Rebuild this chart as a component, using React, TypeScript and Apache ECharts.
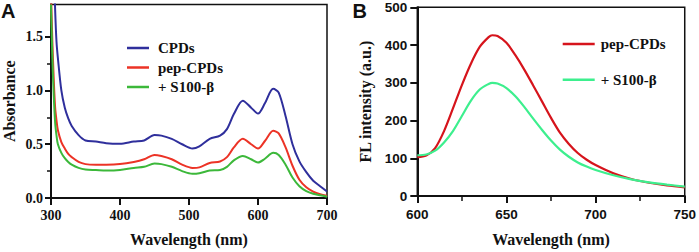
import React, { useEffect, useRef } from "react";
import * as echarts from "echarts";

const waveA = [300, 302, 304, 306, 308, 310, 315, 320, 325, 330, 340, 350, 365, 380, 400, 420, 435, 450, 460, 475, 490, 505, 515, 530, 545, 555, 565, 578, 590, 600, 610, 622, 630, 640, 650, 660, 670, 680, 690, 700];
const cpdsA = [3.2, 2.7, 2.2, 1.75, 1.45, 1.3, 1.0, 0.84, 0.74, 0.67, 0.585, 0.535, 0.525, 0.51, 0.505, 0.525, 0.535, 0.585, 0.58, 0.55, 0.5, 0.46, 0.48, 0.55, 0.58, 0.64, 0.78, 0.905, 0.84, 0.785, 0.88, 1.015, 0.98, 0.76, 0.5, 0.34, 0.24, 0.16, 0.11, 0.06];
const pepA = [1.9, 1.45, 1.1, 0.84, 0.72, 0.63, 0.52, 0.46, 0.41, 0.38, 0.335, 0.315, 0.31, 0.31, 0.315, 0.335, 0.36, 0.4, 0.39, 0.36, 0.31, 0.28, 0.285, 0.325, 0.34, 0.38, 0.47, 0.55, 0.5, 0.46, 0.53, 0.625, 0.6, 0.47, 0.3, 0.17, 0.1, 0.06, 0.035, 0.02];
const s100A = [1.8, 1.3, 0.95, 0.7, 0.58, 0.5, 0.42, 0.37, 0.335, 0.31, 0.28, 0.265, 0.26, 0.255, 0.26, 0.28, 0.29, 0.32, 0.315, 0.29, 0.25, 0.225, 0.23, 0.255, 0.26, 0.29, 0.35, 0.39, 0.36, 0.33, 0.365, 0.42, 0.4, 0.31, 0.19, 0.11, 0.065, 0.04, 0.025, 0.012];

const waveB = [600, 605, 610, 615, 620, 625, 630, 635, 640, 642, 645, 650, 655, 660, 665, 670, 675, 680, 685, 690, 695, 700, 710, 720, 730, 740, 750];
const pepB = [103, 107, 127, 172, 232, 294, 350, 395, 421, 426, 424, 406, 373, 335, 293, 250, 207, 168, 138, 114, 96, 82, 60, 45, 35, 28, 23];
const s100B = [108, 110, 120, 142, 172, 212, 252, 282, 297, 300, 298, 286, 264, 236, 205, 175, 147, 123, 104, 89, 78, 69, 55, 44, 36, 30, 25];

const ticksAy = [0, 0.5, 1.0, 1.5];
const minorAy = [0.25, 0.75, 1.25];
const ticksAx = [300, 400, 500, 600, 700];
const ticksBy = [0, 100, 200, 300, 400, 500];
const ticksBx = [600, 650, 700, 750];
const minorBx = [625, 675, 725];

const namesA = ["CPDs", "pep-CPDs", "+ S100-β"];
const namesB = ["pep-CPDs", "+ S100-β"];
const colorsA = ["#2f2f9c", "#ec3326", "#3cb83a"];
const colorsB = ["#d6141c", "#3def8e"];

const pairs = (xs: number[], ys: number[]) => xs.map((x, i) => [x, ys[i]]);

const SERIF = "'Liberation Serif', 'Times New Roman', serif";
const SANS = "'Liberation Sans', Arial, sans-serif";
const INK = "#111";

export default function App() {
  const ref = useRef<HTMLDivElement>(null);
  useEffect(() => {
    if (!ref.current) return;
    const chart = echarts.init(ref.current, undefined, { renderer: "svg" });
    const axisLine = { show: true, lineStyle: { color: INK, width: 2 } };
    const option: any = {
      animation: false,
      backgroundColor: "#fff",
      grid: [
        { left: 50.7, top: 4.4, width: 276.3, height: 195.1, show: true, borderColor: INK, borderWidth: 1.5, backgroundColor: "transparent" },
        { left: 417.3, top: 7.3, width: 270, height: 191, show: true, borderColor: INK, borderWidth: 1.5, backgroundColor: "transparent" },
      ],
      xAxis: [
        {
          type: "value", gridIndex: 0, min: 300, max: 700, interval: 100,
          axisLine, splitLine: { show: false },
          axisTick: { show: true, length: 7, lineStyle: { color: INK, width: 2 }, customValues: ticksAx },
          axisLabel: { fontFamily: SERIF, fontWeight: "bold", fontSize: 14, color: INK, margin: 10, customValues: ticksAx },
          name: "Wavelength (nm)", nameLocation: "middle", nameGap: 33,
          nameTextStyle: { fontFamily: SERIF, fontWeight: "bold", fontSize: 16, color: INK },
        },
        {
          type: "value", gridIndex: 1, min: 600, max: 750, interval: 50,
          axisLine, splitLine: { show: false },
          axisTick: { show: true, length: 7, lineStyle: { color: INK, width: 2 }, customValues: ticksBx },
          axisLabel: { fontFamily: SANS, fontWeight: "bold", fontSize: 13.5, color: INK, margin: 11, customValues: ticksBx },
          name: "Wavelength (nm)", nameLocation: "middle", nameGap: 35,
          nameTextStyle: { fontFamily: SERIF, fontWeight: "bold", fontSize: 16, color: INK },
        },
        {
          type: "value", gridIndex: 1, min: 600, max: 750, position: "bottom",
          axisLine: { show: false }, splitLine: { show: false },
          axisTick: { show: true, length: 5, lineStyle: { color: INK, width: 1.5 }, customValues: minorBx },
          axisLabel: { show: false },
        },
      ],
      yAxis: [
        {
          type: "value", gridIndex: 0, min: 0, max: 1.8,
          axisLine, splitLine: { show: false },
          axisTick: { show: true, length: 6, lineStyle: { color: INK, width: 2 }, customValues: ticksAy },
          axisLabel: { fontFamily: SERIF, fontWeight: "bold", fontSize: 14, color: INK, margin: 8, customValues: ticksAy, formatter: (v: number) => v.toFixed(1) },
          name: "Absorbance", nameLocation: "middle", nameGap: 34,
          nameTextStyle: { fontFamily: SERIF, fontWeight: "bold", fontSize: 16, color: INK },
        },
        {
          type: "value", gridIndex: 0, min: 0, max: 1.8, position: "left",
          axisLine: { show: false }, splitLine: { show: false },
          axisTick: { show: true, length: 4, lineStyle: { color: INK, width: 1.5 }, customValues: minorAy },
          axisLabel: { show: false },
        },
        {
          type: "value", gridIndex: 1, min: 0, max: 500, interval: 100,
          axisLine, splitLine: { show: false },
          axisTick: { show: true, length: 7, lineStyle: { color: INK, width: 2 }, customValues: ticksBy },
          axisLabel: { fontFamily: SANS, fontWeight: "bold", fontSize: 13.5, color: INK, margin: 10, customValues: ticksBy },
          name: "FL intensity (a.u.)", nameLocation: "middle", nameGap: 44,
          nameTextStyle: { fontFamily: SERIF, fontWeight: "bold", fontSize: 16, color: INK },
        },
      ],
      legend: [
        {
          orient: "vertical", left: 122, top: 35.5, itemWidth: 22, itemHeight: 2.5, itemGap: 4.5, icon: "rect",
          textStyle: { fontFamily: SERIF, fontWeight: "bold", fontSize: 15, color: INK, padding: [0, 0, 0, 4] },
          data: namesA.map((n, i) => ({ name: n, itemStyle: { color: colorsA[i] } })),
          selectedMode: false,
        },
        {
          orient: "vertical", left: 557.7, top: 31.5, itemWidth: 32, itemHeight: 2.5, itemGap: 20.7, icon: "rect",
          textStyle: { fontFamily: SERIF, fontWeight: "bold", fontSize: 15, color: INK, padding: [0, 0, 0, 1] },
          data: namesB.map((n, i) => ({ name: n, itemStyle: { color: colorsB[i] } })),
          selectedMode: false,
        },
      ],
      series: [
        ...[cpdsA, pepA, s100A].map((ys, i) => ({
          type: "line", name: namesA[i], xAxisIndex: 0, yAxisIndex: 0,
          data: pairs(waveA, ys), smooth: 0.3, showSymbol: false, clip: true,
          lineStyle: { color: colorsA[i], width: 2 }, itemStyle: { color: colorsA[i] },
        })),
        ...[pepB, s100B].map((ys, i) => ({
          type: "line", name: namesB[i], xAxisIndex: 1, yAxisIndex: 2,
          data: pairs(waveB, ys), smooth: 0.3, showSymbol: false, clip: true,
          lineStyle: { color: colorsB[i], width: 2.2 }, itemStyle: { color: colorsB[i] },
        })),
      ],
      graphic: [
        { type: "text", left: 1, top: 1, style: { text: "A", fontFamily: SANS, fontWeight: "bold", fontSize: 20, fill: INK } },
        { type: "text", left: 352.5, top: 1, style: { text: "B", fontFamily: SANS, fontWeight: "bold", fontSize: 20, fill: INK } },
      ],
    };
    chart.setOption(option);
    return () => chart.dispose();
  }, []);
  return <div ref={ref} style={{ position: "fixed", left: 0, top: 0, width: 699, height: 252 }} />;
}
